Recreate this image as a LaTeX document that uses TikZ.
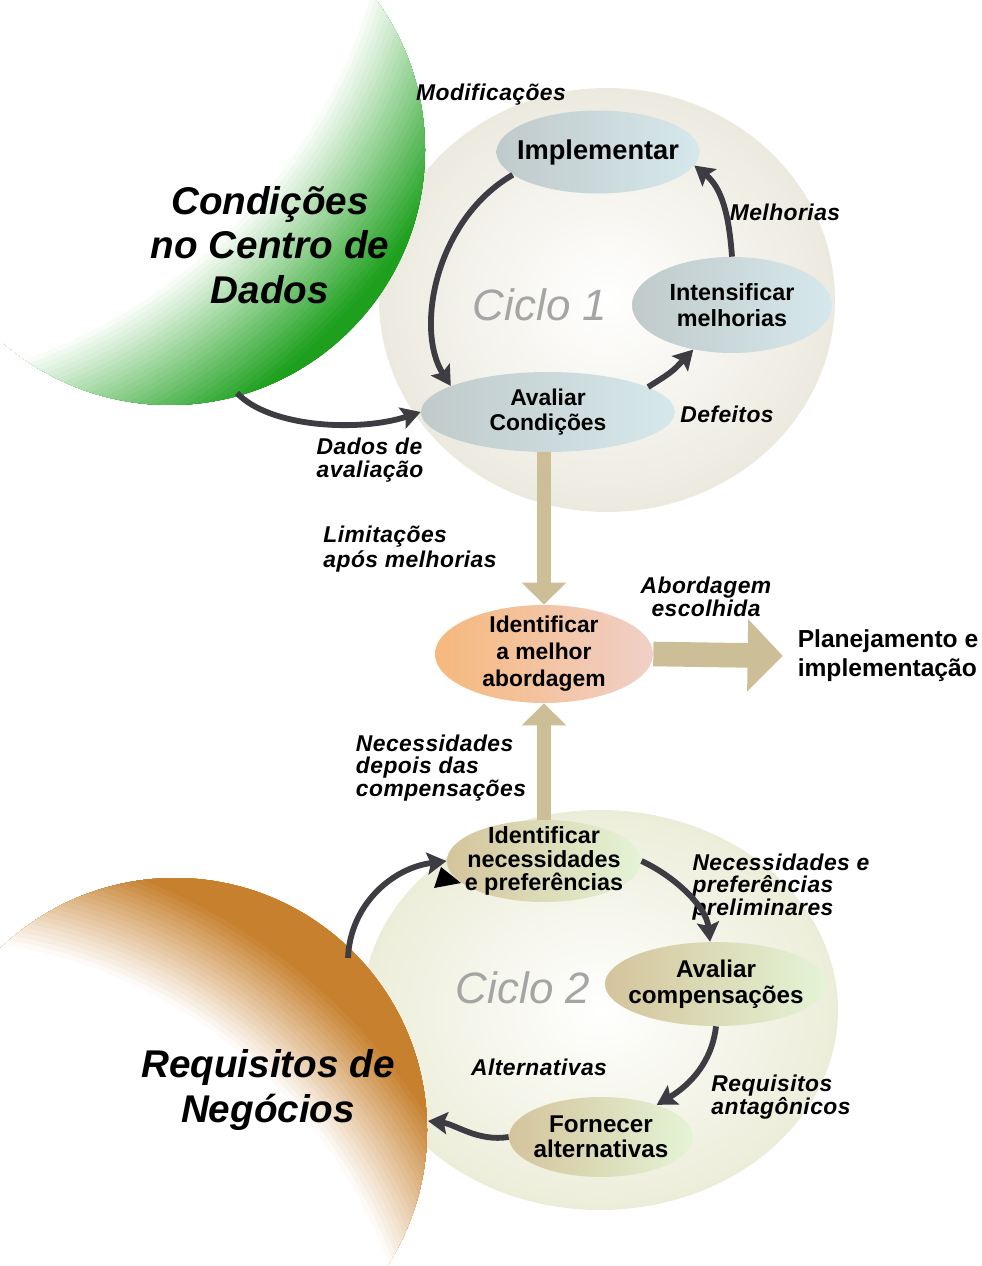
\documentclass[tikz,border=0pt]{standalone}
\usepackage{fontspec}
\setmainfont{Liberation Sans}
\usetikzlibrary{arrows.meta,shapes.geometric,positioning}
\definecolor{moongreen}{RGB}{30,160,30}
\definecolor{moonorange}{RGB}{198,128,46}
\definecolor{spherea}{RGB}{236,234,223}
\definecolor{sphereb}{RGB}{236,237,217}
\definecolor{greya}{RGB}{192,202,202}
\definecolor{bluea}{RGB}{214,232,236}
\definecolor{beigeb}{RGB}{212,196,156}
\definecolor{greenb}{RGB}{228,244,214}
\definecolor{peach}{RGB}{246,184,124}
\definecolor{rosy}{RGB}{240,208,200}
\definecolor{stem}{RGB}{204,190,150}
\definecolor{darkflow}{RGB}{60,60,66}
\definecolor{ciclogrey}{RGB}{165,165,165}
\tikzset{cyclea/.style={ellipse, left color=greya, right color=bluea, inner sep=-6pt, align=center, font=\bfseries\fontsize{13.3}{14.5}\selectfont}}
\tikzset{cycleb/.style={ellipse, left color=beigeb, right color=greenb, inner sep=-6pt, align=center, font=\bfseries\fontsize{13.3}{13.5}\selectfont}}
\tikzset{best/.style={ellipse, left color=peach, right color=rosy, inner sep=-6pt, align=center, font=\bfseries\fontsize{13}{15.3}\selectfont}}
\tikzset{flow/.style={align=left, font=\bfseries\itshape\fontsize{13}{13}\selectfont\addfontfeature{LetterSpace=2}}}
\tikzset{title/.style={align=center, font=\bfseries\itshape\fontsize{22}{25.5}\selectfont}}
\tikzset{ciclo/.style={text=ciclogrey, font=\itshape\fontsize{25}{30}\selectfont}}
\tikzset{turn/.style={draw=darkflow, line width=3.3pt, -{Stealth[length=11pt,width=12.5pt,inset=2pt]}}}
\tikzset{feed/.style={draw=stem, line width=8.5pt, -{Triangle[length=12.5pt,width=24.5pt]}}}
\tikzset{outflow/.style={draw=stem, line width=14pt, -{Triangle[length=20pt,width=40pt]}}}

\begin{document}
\begin{tikzpicture}[x=0.02cm, y=-0.02cm]
\useasboundingbox (0,0) rectangle (981,1266);
\shade[inner color=white, outer color=spherea] (607,300) ellipse (228 and 212);
\shade[inner color=white, outer color=sphereb] (600,1010) ellipse (238 and 200);

\begin{scope}
\clip (170,150) circle (255);
\foreach \r in {720,715,...,545} {
    \pgfmathsetmacro{\p}{max(0,min(100,(\r-550)*0.7))}
    \fill[moongreen!\p!white] (-157,-160) circle (\r);
}
\end{scope}
\begin{scope}
\clip (175,1130) circle (252);
\foreach \r in {660,655,...,490} {
    \pgfmathsetmacro{\p}{max(0,min(100,(\r-496)*0.96))}
    \fill[moonorange!\p!white] (-77,1433) circle (\r);
}
\end{scope}

\node[title] (condicoes) at (270,245) {Condições\\no Centro de\\Dados};
\node[title] (requisitos) at (268,1090) {Requisitos de\\Negócios};
\node[ciclo] (cicloa) at (540,305) {Ciclo 1};
\node[ciclo] (ciclob) at (523,988) {Ciclo 2};

\node[cyclea, minimum width=4.06cm, minimum height=1.66cm, font=\bfseries\fontsize{15.5}{18}\selectfont] (implementar) at (598,152) {Implementar};
\node[cyclea, minimum width=4cm, minimum height=1.92cm] (intensificar) at (732,305) {Intensificar\\melhorias};
\node[cyclea, minimum width=5.08cm, minimum height=1.6cm, font=\bfseries\fontsize{13}{14.5}\selectfont] (avaliar) at (548,412) {Avaliar\\Condições};
\node[best, minimum width=4.36cm, minimum height=1.96cm] (melhor) at (544,654) {Identificar\\a melhor\\abordagem};
\node[align=left, font=\bfseries\fontsize{14}{16.5}\selectfont] (planejamento) at (888,656) {Planejamento e\\implementação};
\node[cycleb, minimum width=3.7cm, minimum height=1.64cm] (necessidades) at (544,861) {Identificar\\necessidades\\e preferências};
\node[cycleb, minimum width=4.44cm, minimum height=1.68cm, font=\bfseries\fontsize{13.8}{14.5}\selectfont] (compensacoes) at (716,984) {Avaliar\\compensações};
\node[cycleb, minimum width=3.68cm, minimum height=1.6cm, font=\bfseries\fontsize{13.8}{14.5}\selectfont] (fornecer) at (601,1137) {Fornecer\\alternativas};

\node[flow] (modificacoes) at (491,95) {Modificações};
\node[flow] (melhorias) at (785,212) {Melhorias};
\node[flow] (defeitos) at (727,414) {Defeitos};
\node[flow] (dados) at (370,460) {Dados de\\avaliação};
\node[flow, font=\bfseries\itshape\fontsize{13}{14}\selectfont\addfontfeature{LetterSpace=2}] (limitacoes) at (410,549) {Limitações\\após melhorias};
\node[flow, align=center] (abordagem) at (706,597) {Abordagem\\escolhida};
\node[flow] (depois) at (441,768) {Necessidades\\depois das\\compensações};
\node[flow] (preliminares) at (781,887) {Necessidades e\\preferências\\preliminares};
\node[flow] (alternativas) at (539,1067) {Alternativas};
\node[flow] (antagonicos) at (781,1097) {Requisitos\\antagônicos};

\coordinate (greenout) at (237,393);
\coordinate (orangeout) at (348,958);
\coordinate (orangein) at (428,1121);

\draw[feed] (melhor.north |- avaliar.south) -- (melhor.north);
\draw[feed] (melhor.south |- necessidades.north) -- (melhor.south);
\draw[outflow, shorten >=5pt] (melhor.east) -- (planejamento.west);

\draw[turn] (implementar.195) .. controls (435,220) and (415,330) .. (avaliar.165);
\draw[turn] (avaliar.14) .. controls (672,372) .. (intensificar.229);
\draw[turn] (intensificar.north) .. controls (729,215) and (722,188) .. (implementar.352);
\draw[turn] (greenout) .. controls (270,428) and (360,432) .. (avaliar.west);
\draw[turn] (necessidades.east) .. controls (672,875) and (706,905) .. (compensacoes.98);
\draw[turn] (compensacoes.south) .. controls (712,1062) and (690,1085) .. (fornecer.30);
\draw[turn] (fornecer.west) .. controls (478,1142) and (455,1124) .. (orangein);
\draw[turn] (orangeout) .. controls (350,905) and (392,868) .. (necessidades.west);
\fill (441,867) -- (461,883) -- (434,888) -- cycle;
\end{tikzpicture}
\end{document}
